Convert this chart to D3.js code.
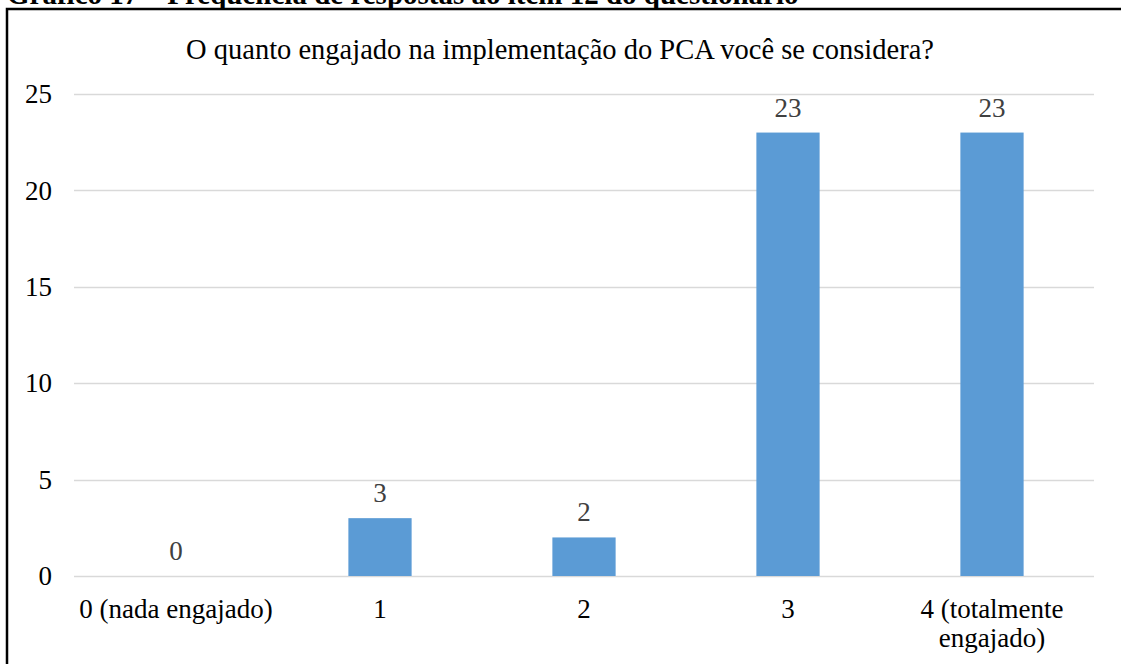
<!DOCTYPE html>
<html>
<head>
<meta charset="utf-8">
<script src="https://cdn.jsdelivr.net/npm/d3@7"></script>
<style>
  body { margin: 0; background: #fff; }
  svg { display: block; font-family: "Liberation Serif", "Times New Roman", serif; }
</style>
</head>
<body>
<div id="chart"></div>
<script>
// data
const categories = ['0 (nada engajado)', '1', '2', '3', '4 (totalmente|engajado)'];
const values = [0, 3, 2, 23, 23];
const yTicks = [0, 5, 10, 15, 20, 25];

const title = 'O quanto engajado na implementação do PCA você se considera?';
const caption = 'Gráfico 17 – Frequência de respostas ao item 12 do questionário';

const width = 1121;
const height = 664;
const margin = {top: 94, right: 27, bottom: 88, left: 74};
const fontSize = 27;

const svg = d3.select('#chart').append('svg')
  .attr('width', width)
  .attr('height', height);

// caption, cut off at top of the page
svg.append('text')
  .attr('x', 7)
  .attr('y', 4)
  .style('font-weight', 'bold')
  .style('font-size', '29px')
  .text(caption);

// frame around the chart
svg.append('rect')
  .attr('x', 7)
  .attr('y', 9)
  .attr('width', width + 20)
  .attr('height', height + 20)
  .attr('fill', '#fff')
  .attr('fill-opacity', 0)
  .attr('stroke', '#000')
  .attr('stroke-width', 2.5);

const x = d3.scaleBand()
  .domain(categories)
  .range([margin.left, width - margin.right])
  .paddingInner(0.69)
  .paddingOuter(0.345);

const y = d3.scaleLinear()
  .domain([0, 25])
  .range([height - margin.bottom, margin.top]);

// title
svg.append('text')
  .attr('x', 560)
  .attr('y', 59)
  .attr('text-anchor', 'middle')
  .style('font-size', '28.5px')
  .text(title);

// gridlines
svg.selectAll('.grid')
  .data(yTicks)
  .enter().append('line')
  .attr('class', 'grid')
  .attr('x1', margin.left)
  .attr('x2', width - margin.right)
  .attr('y1', d => Math.round(y(d)) + 0.5)
  .attr('y2', d => Math.round(y(d)) + 0.5)
  .attr('stroke', '#d9d9d9')
  .attr('stroke-width', 1.5);

// y axis labels
const yAxis = d3.axisLeft(y).tickValues(yTicks).tickSize(0).tickPadding(0);
const gy = svg.append('g')
  .attr('transform', 'translate(52,0)')
  .call(yAxis);
gy.select('.domain').remove();
gy.selectAll('text')
  .style('font-family', '"Liberation Serif", serif')
  .style('font-size', fontSize + 'px')
  .attr('fill', '#000');

// bars
svg.selectAll('.bar')
  .data(values)
  .enter().append('rect')
  .attr('class', 'bar')
  .attr('x', (d, i) => x(categories[i]))
  .attr('width', x.bandwidth())
  .attr('y', d => y(d))
  .attr('height', d => y(0) - y(d))
  .style('fill', '#5b9bd5');

// value labels
svg.selectAll('.val')
  .data(values)
  .enter().append('text')
  .attr('class', 'val')
  .attr('x', (d, i) => x(categories[i]) + x.bandwidth() / 2)
  .attr('y', d => y(d) - 16)
  .attr('text-anchor', 'middle')
  .style('font-size', fontSize + 'px')
  .attr('fill', '#404040')
  .text(d => d);

// x labels (split on |)
const xl = svg.selectAll('.xlab')
  .data(categories)
  .enter().append('text')
  .attr('class', 'xlab')
  .attr('text-anchor', 'middle')
  .style('font-size', fontSize + 'px')
  .attr('fill', '#000');
xl.each(function(d) {
  const cx = x(d) + x.bandwidth() / 2;
  d3.select(this).selectAll('tspan')
    .data(d.split('|'))
    .enter().append('tspan')
    .attr('x', cx)
    .attr('y', (t, j) => 618 + j * 29)
    .text(t => t);
});
</script>
</body>
</html>
